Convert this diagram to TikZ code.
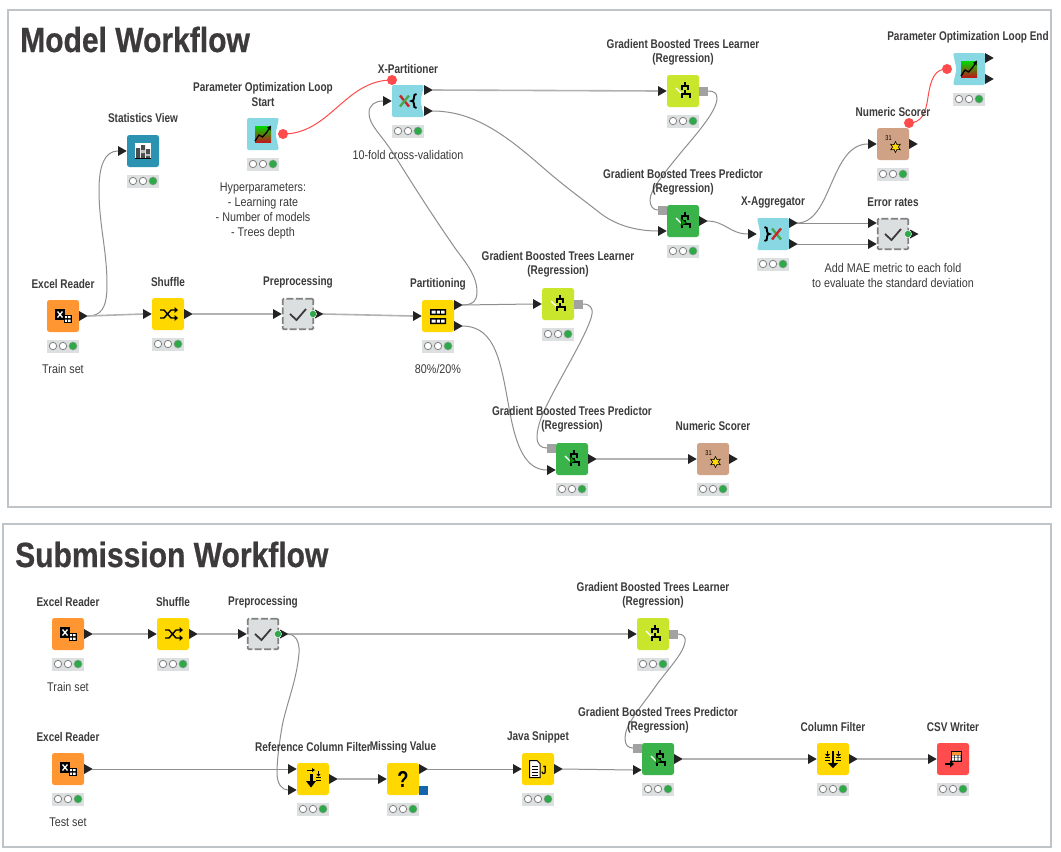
\documentclass[tikz,border=0pt]{standalone}
\usepackage{fontspec}
\setmainfont[FakeStretch=0.795]{Liberation Sans}
\newfontfamily\notefont[FakeStretch=0.855]{Liberation Sans}
\newfontfamily\titlefont[FakeStretch=0.858,BoldFeatures={FakeBold=0.6}]{Liberation Sans}
\usetikzlibrary{shapes.geometric}
\definecolor{frameC}{HTML}{BFC4C8}
\definecolor{txtC}{HTML}{3C3A3A}
\definecolor{lineC}{HTML}{8E8E8E}
\definecolor{lineL}{HTML}{B2B2B2}
\definecolor{flowC}{HTML}{FF4B4B}
\definecolor{portC}{HTML}{222222}
\definecolor{statC}{HTML}{DDE0E0}
\definecolor{okC}{HTML}{2FA84A}
\definecolor{cOrange}{HTML}{FF9632}
\definecolor{cYellow}{HTML}{FFD800}
\definecolor{cLime}{HTML}{C9E52C}
\definecolor{cGreen}{HTML}{3AB44A}
\definecolor{cTan}{HTML}{CFA285}
\definecolor{cCyan}{HTML}{88D8E4}
\definecolor{cBlue}{HTML}{2B93B1}
\definecolor{cRed}{HTML}{FF4D4D}
\definecolor{cMeta}{HTML}{DCDFE0}
\definecolor{cModel}{HTML}{A2A2A2}
\definecolor{cVar}{HTML}{1565AD}
\tikzset{
  x=1pt,y=-1pt,
  nodeBox/.style={rectangle,rounded corners=2.5pt,minimum width=32pt,minimum height=32pt,inner sep=0pt},
  metaBox/.style={nodeBox,fill=cMeta,draw=gray,line width=1.7pt,rounded corners=1pt,dash pattern=on 7pt off 2.4pt,minimum width=30.5pt,minimum height=30.5pt},
  statBox/.style={rectangle,fill=statC,minimum width=32pt,minimum height=13pt,inner sep=0pt},
  lbl/.style={font=\bfseries\fontsize{12.6}{14.3}\selectfont,text=txtC,align=center,inner sep=0pt},
  note/.style={font=\notefont\fontsize{12.6}{15}\selectfont,text=txtC,align=center,inner sep=0pt},
  ttl/.style={font=\titlefont\bfseries\fontsize{35}{40}\selectfont,text=txtC,anchor=base west,inner sep=0pt},
  conn/.style={draw=lineC,line width=1pt},
  connL/.style={draw=lineL,line width=1.6pt},
  flow/.style={draw=flowC,line width=1pt},
  icoTxt/.style={inner sep=0pt,text=black},
}
% ports, all relative to the node centre
\newcommand\ip[2]{\coordinate (#1) at (-25,#2);\fill[portC] (-25,#2-5)--(-16.3,#2)--(-25,#2+5)--cycle;}
\newcommand\op[2]{\coordinate (#1) at (24,#2);\fill[portC] (16,#2-5)--(24.7,#2)--(16,#2+5)--cycle;}
\newcommand\mop[2]{\coordinate (#1) at (25,#2);\fill[portC] (17,#2-4.5)--(25.5,#2)--(17,#2+4.5)--cycle;\fill[okC,draw=white,line width=.4pt] (15,#2) circle (3.6);}
\newcommand\mi[2]{\coordinate (#1) at (-25,#2);\fill[cModel] (-25,#2-4.5) rectangle (-16,#2+4.5);}
\newcommand\mo[2]{\coordinate (#1) at (25,#2);\fill[cModel] (16,#2-4.5) rectangle (25,#2+4.5);}
\newcommand\fv[3]{\coordinate (#1) at (#2,#3);\fill[flowC] (#2,#3) circle (5);}
% nodes
\newcommand\status[1]{%
  \node[statBox] (#1-st) at (0,30) {};
  \foreach \cx in {-10,0}{\fill[white,draw=gray,line width=.8pt] (\cx,30) circle (3.7);}
  \fill[okC,draw=gray!70,line width=.4pt] (10,30) circle (4.1);}
\newcommand\knode[5]{\begin{scope}[shift={(#2,#3)}]
  \node[nodeBox,fill=#4] (#1) at (0,0) {};
  #5\status{#1}\end{scope}}
\newcommand\meta[4]{\begin{scope}[shift={(#2,#3)}]
  \node[metaBox] (#1) at (0,0) {};
  \draw[draw=txtC,line width=1.8pt] (-8,0)--(-1.5,6)--(8,-5);
  #4\end{scope}}
\newcommand\rnotch[4]{\begin{scope}[shift={(#2,#3)}]
  \node[nodeBox] (#1) at (0,0) {};
  \fill[cCyan,rounded corners=2pt] (-16,-16)--(16,-16)--(12.5,0)--(16,16)--(-16,16)--cycle;
  #4\status{#1}\end{scope}}
\newcommand\lnotch[4]{\begin{scope}[shift={(#2,#3)}]
  \node[nodeBox] (#1) at (0,0) {};
  \fill[cCyan,rounded corners=2pt] (-16,-16)--(16,-16)--(16,16)--(-16,16)--(-12.5,0)--cycle;
  #4\status{#1}\end{scope}}
% icons
\newcommand\iExcel{\fill[black] (-8,-7) rectangle (2,4);
  \draw[white,line width=1.3pt] (-5.5,-4.5)--(-.5,1.5) (-.5,-4.5)--(-5.5,1.5);
  \fill[black] (1,-1) rectangle (8.5,7);
  \fill[white] (2,0) rectangle (4,2) (5,0) rectangle (7.5,2) (2,3.5) rectangle (4,5.8) (5,3.5) rectangle (7.5,5.8);}
\newcommand\iShuffle{\draw[line width=1.4pt,black] (-8,-4)--(-4,-4)--(3,4)--(8,4) (-8,4)--(-4,4)--(3,-4)--(8,-4);
  \fill[black] (6.5,-7)--(10,-4)--(6.5,-1)--cycle (6.5,1)--(10,4)--(6.5,7)--cycle;}
\newcommand\iPart{\fill[black] (-8,-7) rectangle (8,-1) (-8,2) rectangle (8,8);
  \fill[white] (-6.5,-5.5) rectangle (-2.3,-2.5) (-1.2,-5.5) rectangle (1.9,-2.5) (3,-5.5) rectangle (6.5,-2.5)
               (-6.5,3.5) rectangle (-2.3,6.5) (-1.2,3.5) rectangle (1.9,6.5) (3,3.5) rectangle (6.5,6.5);}
\newcommand\iStats{\fill[white] (-8,-8) rectangle (8,8);
  \fill[black!70] (-7,-3) rectangle (-3,7) (-2,-6) rectangle (2,7) (3,-2) rectangle (7,7);
  \fill[black!25] (-2,-1) rectangle (2,2) (3,3) rectangle (7,5);
  \draw[black,line width=.8pt] (-8,7.4)--(8,7.4);}
\newcommand\iLoop{\shade[top color=green!85!black,bottom color=red!70!black!90] (-8,-8) rectangle (8,8);
  \draw[black,line width=1.3pt] (-8,7)--(-4,1)--(-.5,3)--(4,-2)--(7,-7);
  \fill[black] (8,-8.5)--(7.5,-3.5)--(4,-6.5)--cycle;}
\newcommand\iBraceL{\draw[black,line width=1.9pt] (8.5,-7) .. controls (6,-7) and (6,-5.5) .. (6,-3) .. controls (6,-1) and (5,0) .. (3.5,0) .. controls (5,0) and (6,1) .. (6,3) .. controls (6,5.5) and (6,7) .. (8.5,7);}
\newcommand\iBraceR{\draw[black,line width=1.9pt] (-8.5,-7) .. controls (-6,-7) and (-6,-5.5) .. (-6,-3) .. controls (-6,-1) and (-5,0) .. (-3.5,0) .. controls (-5,0) and (-6,1) .. (-6,3) .. controls (-6,5.5) and (-6,7) .. (-8.5,7);}
\newcommand\iXleft{\draw[red!75!black!85,line width=2.4pt] (-8,-5.5)--(1,5.5);\draw[green!50!black!70,line width=2.4pt] (1,-5.5)--(-8,5.5);\iBraceL}
\newcommand\iXright{\draw[green!50!black!70,line width=2.4pt] (-1,-5.5)--(8,5.5);\draw[red!75!black!85,line width=2.4pt] (8,-5.5)--(-1,5.5);\iBraceR}
\newcommand\iTree{\draw[white,line width=1.3pt] (-7,-3)--(-1,3);
  \draw[black,line width=1.7pt] (2,-9)--(2,-6) (-1,-1)--(-1,-5)--(5,-5)--(5,-1) (2,-1)--(2,3) (-1,7)--(-1,3)--(7,3)--(7,7);}
\newcommand\iPred{\iTree\fill[green!60!black,draw=black,line width=.5pt] (-2,-3)--(3.5,2)--(-2,5)--cycle;}
\newcommand\iScore[1]{\node[icoTxt,font=\fontsize{7}{7}\selectfont] (#1-31) at (-4.5,-6) {31};
  \node[star,star points=6,star point ratio=1.9,minimum size=11pt,inner sep=0pt,fill=cYellow,draw=black,line width=.6pt] (#1-star) at (2.5,3) {};}
\newcommand\iRef{\draw[black,line width=3pt] (-2,-5)--(-2,3);\fill[black] (-7,2)--(3,2)--(-2,8.5)--cycle;
  \draw[black,line width=1pt] (-6.5,-9)--(-.5,-9);\fill[black] (-1,-11)--(2,-9)--(-1,-7)--cycle;
  \draw[black,line width=1pt] (5.5,-8)--(5.5,-3) (3,-2)--(8,-2) (3,1)--(8,1);\fill[black] (3.5,-5)--(7.5,-5)--(5.5,-2.5)--cycle;}
\newcommand\iMiss[1]{\node[icoTxt,font=\bfseries\fontsize{23}{23}\selectfont] (#1-q) at (0,0.5) {?};}
\newcommand\iJava[1]{\fill[white,draw=black,line width=1pt] (-8.5,-8.5)--(-1,-8.5)--(2,-5.5)--(2,8.5)--(-8.5,8.5)--cycle;
  \draw[black,line width=.9pt] (-6.5,-3)--(0,-3) (-6.5,0)--(0,0) (-6.5,3)--(0,3) (-6.5,6)--(0,6);
  \node[icoTxt,font=\bfseries\fontsize{12}{12}\selectfont] (#1-j) at (6,1) {J};}
\newcommand\iCol{\draw[black,line width=2pt] (0,-8)--(0,5);\fill[black] (-5,4)--(5,4)--(0,9)--cycle;
  \draw[black,line width=1pt] (-5.5,-8)--(-5.5,-3) (5.5,-8)--(5.5,-3) (-8,-2)--(-3,-2) (3,-2)--(8,-2) (-8,1)--(-3,1) (3,1)--(8,1);
  \fill[black] (-8,-5)--(-3,-5)--(-5.5,-2.5)--cycle (8,-5)--(3,-5)--(5.5,-2.5)--cycle;}
\newcommand\iCsv{\fill[black] (-2,-8.5) rectangle (8.5,2.5);\fill[cOrange] (-1,-7.5) rectangle (7.5,-4.5);
  \fill[white] (-1,-3.7) rectangle (1.3,-1.5) (2,-3.7) rectangle (4.6,-1.5) (5.3,-3.7) rectangle (7.5,-1.5) (-1,-.8) rectangle (1.3,1.5) (2,-.8) rectangle (4.6,1.5) (5.3,-.8) rectangle (7.5,1.5);
  \draw[black,line width=1.7pt] (-8,5)--(-2,5);\fill[black] (-3,1.5)--(1,5)--(-3,8.5)--cycle;}
\begin{document}
\begin{tikzpicture}
\useasboundingbox (0,0) rectangle (1061,852);
\fill[white] (0,0) rectangle (1061,852);
\node[draw=frameC,line width=2pt,rectangle,inner sep=0pt,minimum width=1043pt,minimum height=497pt] (frameA) at (529.5,258) {};
\node[draw=frameC,line width=2pt,rectangle,inner sep=0pt,minimum width=1048pt,minimum height=323pt] (frameB) at (527,685.5) {};
\node[ttl] (titleA) at (20,52) {Model Workflow};
\node[ttl] (titleB) at (15,567) {Submission Workflow};

% ---------------- connectors' end points come with the nodes ----------------
\knode{stats}{143}{151}{cBlue}{\iStats\ip{statsI}{0}}
\knode{ex1}{63}{316}{cOrange}{\iExcel\op{ex1O}{0}}
\knode{sh1}{168}{314}{cYellow}{\iShuffle\ip{sh1I}{0}\op{sh1O}{0}}
\meta{pre1}{298}{314}{\ip{pre1I}{0}\mop{pre1O}{0}}
\knode{part}{438}{316}{cYellow}{\iPart\ip{partI}{0}\op{partO1}{-11}\op{partO2}{10}}
\rnotch{plsS}{263}{134}{\iLoop\fv{plsV}{20}{0}}
\rnotch{xp}{408}{101}{\iXleft\fv{xpV}{-16}{-21}\ip{xpI}{0}\op{xpO1}{-11}\op{xpO2}{10}}
\knode{lt}{683}{91}{cLime}{\iTree\ip{ltI}{0}\mo{ltM}{0}}
\knode{pt}{683}{221}{cGreen}{\iPred\mi{ptM}{-11}\ip{ptI}{10}\op{ptO}{0}}
\lnotch{xa}{773}{234}{\iXright\ip{xaI}{0}\op{xaO1}{-11}\op{xaO2}{10}}
\knode{ns}{893}{144}{cTan}{\iScore{ns}\fv{nsV}{16}{-21}\ip{nsI}{0}\op{nsO}{0}}
\meta{er}{893}{234}{\ip{erI1}{-11}\ip{erI2}{10}\mop{erO}{0}}
\lnotch{ple}{969}{69}{\iLoop\fv{pleV}{-22}{0}\op{pleO1}{-11}\op{pleO2}{10}}
\knode{lm}{558}{304}{cLime}{\iTree\ip{lmI}{0}\mo{lmM}{0}}
\knode{pm}{572}{459}{cGreen}{\iPred\mi{pmM}{-11}\ip{pmI}{11}\op{pmO}{0}}
\knode{nl}{713}{459}{cTan}{\iScore{nl}\ip{nlI}{0}\op{nlO}{0}}

\knode{ex2}{68}{634}{cOrange}{\iExcel\op{ex2O}{0}}
\knode{sh2}{173}{634}{cYellow}{\iShuffle\ip{sh2I}{0}\op{sh2O}{0}}
\meta{pre2}{263}{634}{\ip{pre2I}{0}\mop{pre2O}{0}}
\knode{ls}{653}{634}{cLime}{\iTree\ip{lsI}{0}\mo{lsM}{0}}
\knode{ex3}{68}{769}{cOrange}{\iExcel\op{ex3O}{0}}
\knode{rf}{313}{779}{cYellow}{\iRef\ip{rfI1}{-10}\ip{rfI2}{11}\op{rfO}{0}}
\knode{mv}{403}{779}{cYellow}{\iMiss{mv}\ip{mvI}{0}\op{mvO}{-10}\fill[cVar] (16,6.5) rectangle (25,15.5);}
\knode{js}{538}{769}{cYellow}{\iJava{js}\ip{jsI}{0}\op{jsO}{0}}
\knode{ps}{658}{759}{cGreen}{\iPred\mi{psM}{-11}\ip{psI}{11}\op{psO}{0}}
\knode{cf}{833}{759}{cYellow}{\iCol\ip{cfI}{0}\op{cfO}{0}}
\knode{csv}{953}{759}{cRed}{\iCsv\ip{csvI}{0}}

% ---------------- connectors ----------------
\draw[conn] (ex1O) .. controls (100,316) and (107,310) .. (107,285) .. controls (107,250) and (99,225) .. (99,190) .. controls (99,165) and (105,151) .. (statsI);
\draw[connL] (ex1O) -- (sh1I);
\draw[connL] (sh1O) -- (pre1I);
\draw[connL] (pre1O) -- (partI);
\draw[conn] (partO1) -- (lmI);
\draw[conn] (partO1) .. controls (470,305) and (477,303) .. (477,292) .. controls (477,275) and (465,262) .. (455,248) .. controls (430,212) and (410,180) .. (393,153) .. controls (380,133) and (369,125) .. (369,113) .. controls (369,105) and (375,101) .. (xpI);
\draw[conn] (partO2) .. controls (497,326) and (501,365) .. (510,413) .. controls (516,445) and (525,470) .. (pmI);
\draw[conn] (lmM) .. controls (590,304) and (593,308) .. (592,314) .. controls (590,328) and (565,370) .. (553,393) .. controls (544,410) and (537,425) .. (537,437) .. controls (537,445) and (541,448) .. (pmM);
\draw[connL] (pmO) -- (nlI);
\draw[flow] (plsV) .. controls (330,134) and (345,80) .. (xpV);
\draw[connL] (xpO1) -- (ltI);
\draw[conn] (xpO2) .. controls (470,111) and (500,130) .. (540,165) .. controls (565,187) and (585,201) .. (600,213) .. controls (618,227) and (640,231) .. (ptI);
\draw[conn] (ltM) .. controls (714,91) and (717,93) .. (717,98) .. controls (717,110) and (700,130) .. (683,150) .. controls (665,172) and (650,190) .. (650,200) .. controls (650,206) and (653,210) .. (ptM);
\draw[conn] (ptO) .. controls (725,221) and (730,234) .. (xaI);
\draw[conn] (xaO1) -- (erI1);
\draw[conn] (xaO2) -- (erI2);
\draw[conn] (xaO1) .. controls (832,223) and (830,144) .. (nsI);
\draw[flow] (nsV) .. controls (922,123) and (926,112) .. (928,97) .. controls (931,78) and (935,69) .. (pleV);

\draw[connL] (ex2O) -- (sh2I);
\draw[connL] (sh2O) -- (pre2I);
\draw[connL] (pre2O) -- (lsI);
\draw[conn] (pre2O) .. controls (294,634) and (300,640) .. (299,653) .. controls (297,680) and (286,705) .. (282,727) .. controls (279,745) and (277,760) .. (277,773) .. controls (277,784) and (282,790) .. (rfI2);
\draw[conn] (ex3O) -- (rfI1);
\draw[connL] (rfO) -- (mvI);
\draw[conn] (mvO) -- (jsI);
\draw[conn] (jsO) -- (psI);
\draw[conn] (lsM) .. controls (683,634) and (686,637) .. (685,642) .. controls (683,655) and (665,672) .. (653,690) .. controls (640,708) and (625,725) .. (625,738) .. controls (625,745) and (628,748) .. (psM);
\draw[connL] (psO) -- (cfI);
\draw[connL] (cfO) -- (csvI);

% ---------------- labels ----------------
\node[lbl] (l1) at (143,118) {Statistics View};
\node[lbl] (l2) at (63,284) {Excel Reader};
\node[lbl] (l3) at (168,282) {Shuffle};
\node[lbl] (l4) at (298,282) {Preprocessing};
\node[lbl] (l5) at (438,284) {Partitioning};
\node[lbl] (l6) at (263,94.5) {Parameter Optimization Loop\\Start};
\node[lbl] (l7) at (408,69) {X-Partitioner};
\node[lbl] (l8) at (683,52) {Gradient Boosted Trees Learner\\(Regression)};
\node[lbl] (l9) at (683,182) {Gradient Boosted Trees Predictor\\(Regression)};
\node[lbl] (l10) at (773,202) {X-Aggregator};
\node[lbl] (l11) at (893,202) {Error rates};
\node[lbl] (l12) at (893,112) {Numeric Scorer};
\node[lbl] (l13) at (968,37) {Parameter Optimization Loop End};
\node[lbl] (l14) at (558,264.5) {Gradient Boosted Trees Learner\\(Regression)};
\node[lbl] (l15) at (572,419) {Gradient Boosted Trees Predictor\\(Regression)};
\node[lbl] (l16) at (713,426) {Numeric Scorer};
\node[lbl] (l17) at (68,602) {Excel Reader};
\node[lbl] (l18) at (173,602) {Shuffle};
\node[lbl] (l19) at (263,602) {Preprocessing};
\node[lbl] (l20) at (653,595) {Gradient Boosted Trees Learner\\(Regression)};
\node[lbl] (l21) at (658,720) {Gradient Boosted Trees Predictor\\(Regression)};
\node[lbl] (l22) at (68,737) {Excel Reader};
\node[lbl] (l23) at (313,747) {Reference Column Filter};
\node[lbl] (l24) at (403,747) {Missing Value};
\node[lbl] (l25) at (538,737) {Java Snippet};
\node[lbl] (l26) at (833,727) {Column Filter};
\node[lbl] (l27) at (953,727) {CSV Writer};
\node[note] (n1) at (63,369) {Train set};
\node[note] (n2) at (438,369) {80\%/20\%};
\node[note] (n3) at (408,155) {10-fold cross-validation};
\node[note] (n4) at (263,210.5) {Hyperparameters:\\- Learning rate\\- Number of models\\- Trees depth};
\node[note] (n5) at (893,275.5) {Add MAE metric to each fold\\to evaluate the standard deviation};
\node[note] (n6) at (68,687) {Train set};
\node[note] (n7) at (68,822) {Test set};
\end{tikzpicture}
\end{document}
